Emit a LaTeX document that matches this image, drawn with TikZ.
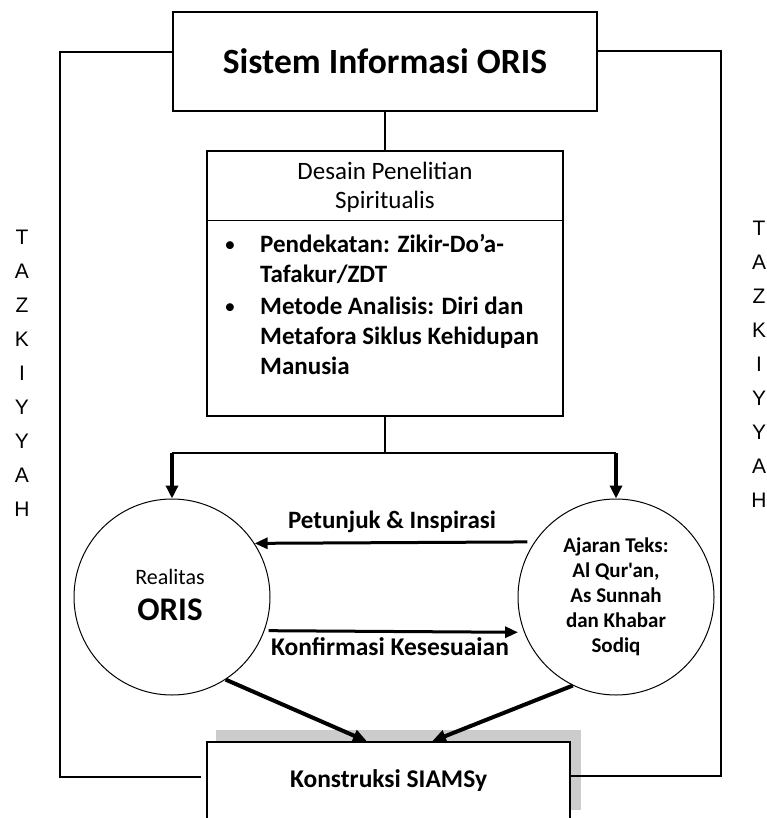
\documentclass[tikz,border=0pt]{standalone}
\usepackage{fontspec}
\setmainfont{Carlito}[Ligatures=TeXOff]
\newfontfamily\arialf{Liberation Sans}
\usetikzlibrary{arrows.meta,backgrounds}
\begin{document}
\begin{tikzpicture}[x=1pt,y=-1pt,
  thinln/.style={line width=1.3pt},
  box/.style={draw, line width=1.3pt, fill=white, inner sep=0pt},
  circ/.style={draw, circle, line width=1pt, minimum size=196pt, inner sep=0pt},
  harr/.style={line width=3pt, -{Triangle[length=13pt,width=11pt]}},
  varr/.style={line width=4pt, -{Triangle[length=13pt,width=12pt]}},
  darr/.style={line width=4pt, -{Triangle[length=14pt,width=12pt]}},
  txt/.style={inner sep=0pt},
  bul/.style={inner sep=0pt, anchor=base west, font=\fontsize{25}{29}\selectfont\bfseries},
  tz/.style={inner sep=0pt, align=center, font=\arialf\fontsize{21}{34}\selectfont}
]
\clip (0,0) rectangle (767,818);

% top box
\node[box, minimum width=424pt, minimum height=99pt,
      font=\fontsize{35.5}{40}\selectfont\bfseries] (top) at (385,61.5) {Sistem Informasi ORIS};

% desain box
\node[box, minimum width=356pt, minimum height=265pt] (desain) at (385,283.5) {};
\draw[thinln] ([yshift=-70pt]desain.north west) -- ([yshift=-70pt]desain.north east);
\node[txt, align=center, font=\fontsize{25}{29}\selectfont] (dtitle) at (385,187.5)
  {Desain Penelitian\\Spiritualis};
\node[bul, anchor=base, font=\fontsize{17}{20}\selectfont] (b1) at (230,250) {●};
\node[bul] (l1) at (260,252) {Pendekatan: Zikir-Do’a-};
\node[bul] (l2) at (260,282) {Tafakur/ZDT};
\node[bul, anchor=base, font=\fontsize{17}{20}\selectfont] (b2) at (230,312) {●};
\node[bul] (l3) at (260,314) {Metode Analisis: Diri dan};
\node[bul] (l4) at (260,344) {Metafora Siklus Kehidupan};
\node[bul] (l5) at (260,374) {Manusia};

\draw[thinln] (top.south) -- (desain.north);

% circles
\node[circ] (realitas) at (172,597) {};
\node[txt, font=\fontsize{22}{24}\selectfont] (realtxt) at (170,577) {Realitas};
\node[txt, font=\fontsize{33}{38}\selectfont\bfseries] (oristxt) at (170,610) {ORIS};
\node[circ, align=center, font=\fontsize{21}{25}\selectfont\bfseries] (ajaran) at (616,597)
  {Ajaran Teks:\\Al Qur'an,\\As Sunnah\\dan Khabar\\Sodiq};

% fork
\coordinate (fork) at (385,453);
\coordinate (forkL) at (172,453);
\coordinate (forkR) at (616,453);
\draw[thinln] (desain.south) -- (fork);
\draw[thinln] (forkL) -- (forkR);
\draw[varr] (forkL) -- (realitas.north);
\draw[varr] (forkR) -- (ajaran.north);

% horizontal arrows
\draw[harr] ([xshift=-7pt]ajaran.146.6) -- (realitas.33.4);
\draw[harr] ([xshift=4pt]realitas.-20.3) -- ([xshift=-6pt]ajaran.-159.7);
\node[txt, font=\fontsize{25}{29}\selectfont\bfseries] (petunjuk) at (392,522) {Petunjuk \& Inspirasi};
\node[txt, font=\fontsize{25.5}{29}\selectfont\bfseries] (konfirm) at (390,647) {Konfirmasi Kesesuaian};

% bottom box
\node[box, minimum width=363pt, minimum height=78pt,
      font=\fontsize{25.5}{29}\selectfont\bfseries] (konst) at (388.5,781) {Konstruksi SIAMSy};
\begin{pgfonlayer}{background}
\fill[gray!40] ([shift={(10pt,11pt)}]konst.south west) rectangle ([shift={(10pt,11pt)}]konst.north east);
\end{pgfonlayer}

\draw[darr] (realitas.-57) -- ([xshift=-21.5pt]konst.north);
\draw[darr] (ajaran.244.7) -- ([xshift=43.5pt]konst.north);

% outer frame
\coordinate (lt) at (60,52);
\coordinate (lb) at (60,777);
\coordinate (rt) at (721,51);
\coordinate (rb) at (721,776);
\draw[thinln] ([yshift=9.5pt]top.west) -- (lt) -- (lb) -- ([xshift=-5pt,yshift=4pt]konst.west);
\draw[thinln] ([yshift=10.5pt]top.east) -- (rt) -- (rb) -- ([yshift=5pt]konst.east);

% TAZKIYYAH
\node[tz] (tzl) at (22,373.5) {T\\A\\Z\\K\\I\\Y\\Y\\A\\H};
\node[tz] (tzr) at (759,364) {T\\A\\Z\\K\\I\\Y\\Y\\A\\H};
\end{tikzpicture}
\end{document}
